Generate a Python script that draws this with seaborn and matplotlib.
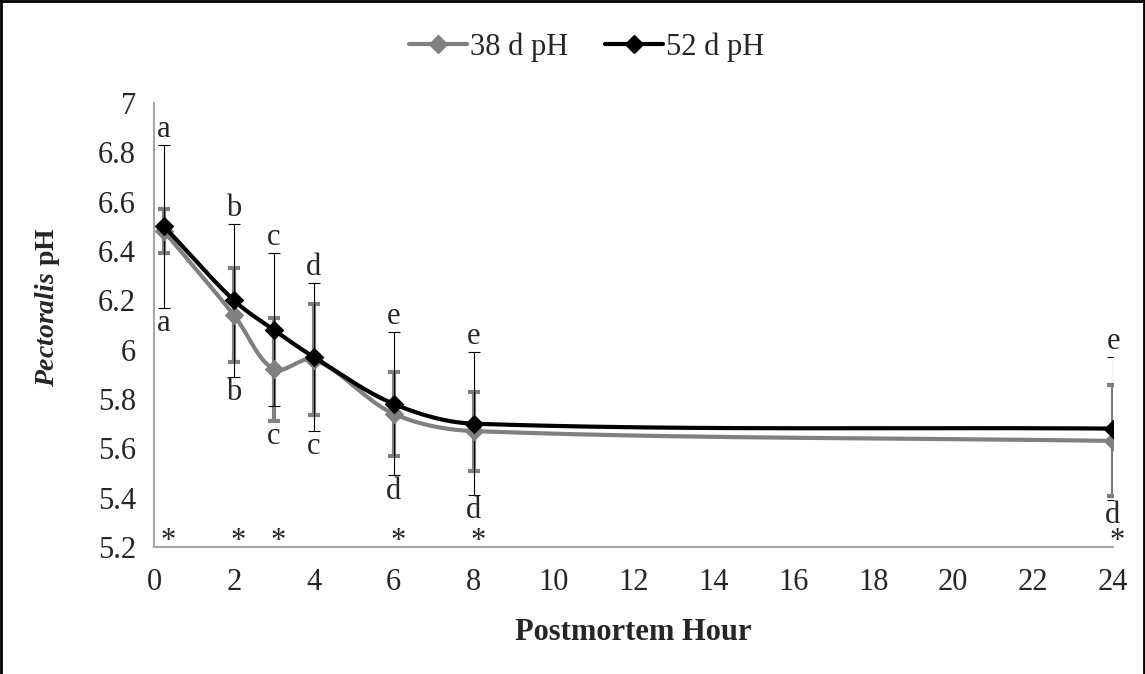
import numpy as np
import pandas as pd
import matplotlib
matplotlib.use("Agg")
import matplotlib.pyplot as plt
from matplotlib.lines import Line2D
import seaborn as sns

sns.set_style("white")
plt.rcParams["font.family"] = ["Liberation Serif", "DejaVu Serif"]
plt.rcParams["mathtext.fontset"] = "custom"
plt.rcParams["mathtext.it"] = "Liberation Serif:italic:bold"
plt.rcParams["mathtext.rm"] = "Liberation Serif:bold"

# data
hours = [0.25, 2, 3, 4, 6, 8, 24]
ph_38 = [6.48, 6.14, 5.92, 5.96, 5.74, 5.67, 5.63]
err_38 = [0.09, 0.19, 0.21, 0.225, 0.17, 0.16, 0.225]
ph_52 = [6.50, 6.20, 6.08, 5.97, 5.78, 5.70, 5.68]
err_52 = [0.33, 0.31, 0.31, 0.30, 0.29, 0.29, 0.29]
top_letters = ["a", "b", "c", "d", "e", "e", "e"]
bottom_letters = ["a", "b", "c", "c", "d", "d", "d"]
star_hours = [0.25, 2, 3, 6, 8, 24]
x_ticks = list(range(0, 25, 2))
y_ticks = [5.2, 5.4, 5.6, 5.8, 6.0, 6.2, 6.4, 6.6, 6.8, 7.0]
y_tick_labels = ["5.2", "5.4", "5.6", "5.8", "6", "6.2", "6.4", "6.6", "6.8", "7"]

GRAY = "#808080"
BLACK = "#000000"
FS = 22


def smooth_curve(x, y, n=40, aspect=6.17):
    # Excel-like smoothed line: cubic Bezier through the points
    pts = np.column_stack([np.asarray(x, float), np.asarray(y, float) * aspect])
    last = len(pts) - 1
    out = []
    for i in range(last):
        p0, p1 = pts[max(i - 1, 0)], pts[i]
        p2, p3 = pts[i + 1], pts[min(i + 2, last)]
        d01 = np.linalg.norm(p1 - p0)
        d12 = np.linalg.norm(p2 - p1)
        d23 = np.linalg.norm(p3 - p2)
        c1 = p1 + (p2 - p0) * d12 / (3 * (d01 + d12))
        c2 = p2 - (p3 - p1) * d12 / (3 * (d12 + d23))
        t = np.linspace(0, 1, n)[:, None]
        seg = ((1 - t) ** 3 * p1 + 3 * (1 - t) ** 2 * t * c1
               + 3 * (1 - t) * t ** 2 * c2 + t ** 3 * p2)
        out.append(seg if i == 0 else seg[1:])
    curve = np.vstack(out)
    return pd.DataFrame({"x": curve[:, 0], "y": curve[:, 1] / aspect})


fig = plt.figure(figsize=(11.45, 6.74), dpi=100)
ax = fig.add_axes([154 / 1145, 1 - 547 / 674, (1113 - 154) / 1145, (547 - 103) / 674])

# error bars
ax.errorbar(hours, ph_38, yerr=err_38, fmt="none", ecolor=GRAY,
            elinewidth=3, capsize=4.5, capthick=3, zorder=2)
ax.errorbar(hours, ph_52, yerr=err_52, fmt="none", ecolor=BLACK,
            elinewidth=0.8, capsize=4.5, capthick=0.8, zorder=3)

# smoothed lines
sns.lineplot(data=smooth_curve(hours, ph_38), x="x", y="y", sort=False,
             estimator=None, color=GRAY, linewidth=3, ax=ax, zorder=4)
sns.lineplot(data=smooth_curve(hours, ph_52), x="x", y="y", sort=False,
             estimator=None, color=BLACK, linewidth=3, ax=ax, zorder=6)

# markers
sns.scatterplot(x=hours, y=ph_38, marker="D", s=100, color=GRAY,
                linewidth=0, ax=ax, zorder=5)
sns.scatterplot(x=hours, y=ph_52, marker="D", s=100, color=BLACK,
                linewidth=0, ax=ax, zorder=7)

# significance letters
for h, a, b, ea, eb, lt, lb in zip(hours, ph_38, ph_52, err_38, err_52,
                                   top_letters, bottom_letters):
    top = max(a + ea, b + eb)
    bot = min(a - ea, b - eb)
    ax.text(h, top + 0.005, lt, ha="center", va="bottom", fontsize=FS)
    ax.text(h, bot - 0.005, lb, ha="center", va="top", fontsize=FS)

for h in star_hours:
    ax.text(h + 0.1, 5.19, "*", ha="center", va="baseline", fontsize=22)

ax.set_xlim(0, 24)
ax.set_ylim(5.2, 7.0)
ax.set_xticks(x_ticks)
ax.set_yticks(y_ticks)
ax.set_yticklabels(y_tick_labels)
ax.tick_params(axis="x", length=0, pad=15, labelsize=FS)
ax.tick_params(axis="y", length=0, pad=13, labelsize=FS)

for side in ["top", "right"]:
    ax.spines[side].set_visible(False)
for side in ["left", "bottom"]:
    ax.spines[side].set_color("#a6a6a6")
    ax.spines[side].set_linewidth(1.5)

ax.set_xlabel("Postmortem Hour", fontsize=FS, fontweight="bold", labelpad=15)
ax.set_ylabel(r"$\mathit{Pectoralis}$ pH", fontsize=20, fontweight="bold")
ax.yaxis.set_label_coords(-0.096, 0.54)

handles = [
    Line2D([], [], color=GRAY, lw=3, marker="D", markersize=9),
    Line2D([], [], color=BLACK, lw=3, marker="D", markersize=9),
]
fig.legend(handles, ["38 d pH", "52 d pH"], loc="center", bbox_to_anchor=(0.512, 0.93),
           ncol=2, frameon=False, fontsize=FS, handlelength=1.9,
           handletextpad=0.1, columnspacing=1.2)

# outer border of the chart area
for xs, ys in [([0.001, 0.001], [0, 1]), ([0, 1], [0.998, 0.998]), ([0.999, 0.999], [0, 1])]:
    fig.add_artist(Line2D(xs, ys, color="black", lw=2, transform=fig.transFigure))

fig.savefig("out.png", dpi=100)
plt.close(fig)
